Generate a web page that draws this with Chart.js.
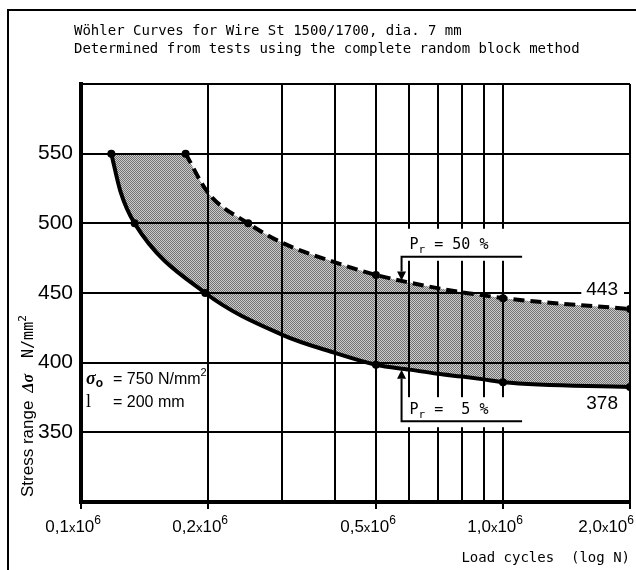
<!DOCTYPE html>
<html lang="en">
<head>
<meta charset="utf-8">
<title>Wöhler Curves for Wire St 1500/1700</title>
<script src="https://cdn.jsdelivr.net/npm/chart.js@4.4.1/dist/chart.umd.min.js"></script>
<style>
  html, body { margin: 0; padding: 0; background: #fff; }
  #wrap { width: 636px; height: 570px; }
</style>
</head>
<body>
<div id="wrap"><canvas id="woehlerChart" width="636" height="570"></canvas></div>
<script>
// Load cycles N and stress range (N/mm²)
const CYCLES_P5 = [0.118e6, 0.124e6, 0.134e6, 0.197e6, 0.3e6, 0.4e6, 0.5e6, 0.6e6, 0.7e6, 0.8e6, 0.9e6, 1.0e6, 2.0e6];
const STRESS_P5 = [550, 523, 500, 450, 420, 407, 398.5, 395, 392, 390, 388, 386, 382.5];
const CYCLES_P50 = [0.177e6, 0.2e6, 0.249e6, 0.3e6, 0.4e6, 0.5e6, 0.6e6, 0.7e6, 0.8e6, 0.9e6, 1.0e6, 2.0e6];
const STRESS_P50 = [550, 522, 500, 486, 472, 463, 457.5, 453.5, 450.5, 448.3, 446.3, 438.5];

// which points carry a dot
const DOTS_P5 = [0, 2, 3, 6, 11, 12];
const DOTS_P50 = [0, 2, 5, 10, 11];

const X_GRID = [1e5, 2e5, 3e5, 4e5, 5e5, 6e5, 7e5, 8e5, 9e5, 1e6, 2e6];
const X_LABELS = [1e5, 2e5, 5e5, 1e6, 2e6];
const Y_LABELS = [350, 400, 450, 500, 550];

const TITLE_LINES = [
    "Wöhler Curves for Wire St 1500/1700, dia. 7 mm",
    "Determined from tests using the complete random block method"
];
const END_LABEL_P50 = "443";
const END_LABEL_P5 = "378";

// where the P_r arrows point (load cycles) and the stress they touch
const PR_ARROW_AT = 0.575e6;
const PR_LEADER_END = 1.11e6;

const MONO = '"DejaVu Sans Mono"';
const SANS = '"Liberation Sans"';
const SERIF = '"Liberation Serif"';

// dithered grey like the printed band
function makeStipple() {
    const c = document.createElement("canvas");
    c.width = 2;
    c.height = 2;
    const g = c.getContext("2d");
    g.fillStyle = "#cccccc";
    g.fillRect(0, 0, 2, 2);
    g.fillStyle = "#727272";
    g.fillRect(0, 0, 1, 1);
    g.fillRect(1, 1, 1, 1);
    return g.createPattern(c, "repeat");
}

function runsWidth(ctx, runs) {
    let w = 0;
    runs.forEach((run) => {
        ctx.font = run.font;
        w += ctx.measureText(run.text).width + (run.gap || 0);
    });
    return w;
}

function drawRuns(ctx, x, y, runs) {
    runs.forEach((run) => {
        ctx.font = run.font;
        ctx.fillText(run.text, x, y + (run.dy || 0));
        x += ctx.measureText(run.text).width + (run.gap || 0);
    });
    return x;
}

function drawPr(ctx, xs, ys, tipValue, leaderValue, text, pointsUp) {
    const ax = xs.getPixelForValue(PR_ARROW_AT);
    const endX = xs.getPixelForValue(PR_LEADER_END);
    const tipY = ys.getPixelForValue(tipValue);
    const leaderY = ys.getPixelForValue(leaderValue);

    // white patch under the label breaks the grid lines
    ctx.fillStyle = "#fff";
    if (pointsUp) {
        ctx.fillRect(ax + 3, leaderY - 24, endX - ax - 3, 30);
    } else {
        ctx.fillRect(ax + 3, leaderY - 28, endX - ax - 3, 32);
    }

    ctx.fillStyle = "#000";
    ctx.strokeStyle = "#000";
    ctx.lineWidth = 2;
    const dir = pointsUp ? 1 : -1;
    const baseY = tipY + dir * 9;
    ctx.beginPath();
    ctx.moveTo(endX, leaderY);
    ctx.lineTo(ax, leaderY);
    ctx.lineTo(ax, baseY);
    ctx.stroke();
    ctx.beginPath();
    ctx.moveTo(ax, tipY);
    ctx.lineTo(ax - 4.5, baseY);
    ctx.lineTo(ax + 4.5, baseY);
    ctx.closePath();
    ctx.fill();

    drawRuns(ctx, ax + 8, leaderY - (pointsUp ? 7 : 8), [
        { text: "P", font: "15px " + MONO },
        { text: "r", font: "11px " + MONO, dy: 4 },
        { text: text, font: "15px " + MONO }
    ]);
}

const textPlugin = {
    id: "woehlerText",
    afterDraw(chart) {
        const { ctx, chartArea: area } = chart;
        const xs = chart.scales.x;
        const ys = chart.scales.y;
        ctx.save();
        ctx.fillStyle = "#000";
        ctx.strokeStyle = "#000";
        ctx.textAlign = "left";
        ctx.textBaseline = "alphabetic";

        // outer frame of the figure
        ctx.lineWidth = 2;
        ctx.beginPath();
        ctx.moveTo(8, 570);
        ctx.lineTo(8, 10);
        ctx.lineTo(636, 10);
        ctx.stroke();

        ctx.font = "14px " + MONO;
        TITLE_LINES.forEach((line, i) => ctx.fillText(line, 74, 35 + i * 18));

        // x tick labels  0,1x10^6 ...
        X_LABELS.forEach((v) => {
            const runs = [
                { text: (v / 1e6).toFixed(1).replace(".", ","), font: "17px " + SANS },
                { text: "x", font: "13px " + SANS },
                { text: "10", font: "17px " + SANS },
                { text: "6", font: "12px " + SANS, dy: -8 }
            ];
            const w = runsWidth(ctx, runs);
            const right = Math.min(xs.getPixelForValue(v) + 20, 634);
            drawRuns(ctx, right - w, 532, runs);
        });

        // y axis title, rotated
        ctx.save();
        ctx.translate(33, area.bottom - 5);
        ctx.rotate(-Math.PI / 2);
        drawRuns(ctx, 0, 0, [
            { text: "Stress range", font: "17px " + SANS, gap: 8 },
            { text: "Δσ", font: "bold italic 16px " + SERIF, gap: 16 },
            { text: "N/mm", font: "15px " + MONO },
            { text: "2", font: "11px " + MONO, dy: -7 }
        ]);
        ctx.restore();

        // test conditions
        const sx = area.left + 5;
        const sy = ys.getPixelForValue(385);
        drawRuns(ctx, sx, sy, [
            { text: "σ", font: "bold italic 18px " + SERIF },
            { text: "o", font: "bold 12px " + SANS, dy: 3 }
        ]);
        const ex = drawRuns(ctx, sx + 27, sy, [{ text: "= 750 N/mm", font: "16px " + SANS }]);
        drawRuns(ctx, ex, sy - 8, [{ text: "2", font: "11px " + SANS }]);
        drawRuns(ctx, sx, sy + 23, [{ text: "l", font: "18px " + SERIF }]);
        drawRuns(ctx, sx + 27, sy + 23, [{ text: "= 200 mm", font: "16px " + SANS }]);

        drawPr(ctx, xs, ys, 459, 476, " = 50 %", false);
        drawPr(ctx, xs, ys, 395, 358, " =  5 %", true);

        // end values at 2x10^6
        ctx.font = "19px " + SANS;
        ctx.textAlign = "right";
        const lx = area.right - 12;
        const y443 = ys.getPixelForValue(448.5);
        const w443 = ctx.measureText(END_LABEL_P50).width;
        ctx.fillStyle = "#fff";
        ctx.fillRect(lx - w443 - 5, y443 - 15, w443 + 11, 17);
        ctx.fillStyle = "#000";
        ctx.fillText(END_LABEL_P50, lx, y443);
        ctx.fillText(END_LABEL_P5, lx, ys.getPixelForValue(366.5));

        ctx.restore();
    }
};

Chart.defaults.font.family = "Liberation Sans";
Chart.defaults.color = "#000";

const stipple = makeStipple();

new Chart(document.getElementById("woehlerChart"), {
    type: "line",
    data: {
        datasets: [
            {
                // P_r = 50 %  (dashed); white fill clears the area above it
                label: "P_r = 50 %",
                data: CYCLES_P50.map((x, i) => ({ x: x, y: STRESS_P50[i] })),
                borderColor: "#000",
                borderWidth: 4,
                borderDash: [11, 6],
                backgroundColor: "#fff",
                fill: { value: 550 },
                cubicInterpolationMode: "monotone",
                pointRadius: (c) => (DOTS_P50.includes(c.dataIndex) ? 4 : 0),
                pointBackgroundColor: "#000",
                pointBorderWidth: 0
            },
            {
                // P_r = 5 %  (solid); grey band up to 550
                label: "P_r = 5 %",
                data: CYCLES_P5.map((x, i) => ({ x: x, y: STRESS_P5[i] })),
                borderColor: "#000",
                borderWidth: 4,
                backgroundColor: stipple,
                fill: { value: 550 },
                cubicInterpolationMode: "monotone",
                pointRadius: (c) => (DOTS_P5.includes(c.dataIndex) ? 4 : 0),
                pointBackgroundColor: "#000",
                pointBorderWidth: 0
            }
        ]
    },
    options: {
        responsive: false,
        animation: false,
        layout: { padding: { top: 84, right: 6, left: 0, bottom: 0 } },
        plugins: {
            legend: { display: false },
            tooltip: { enabled: false }
        },
        scales: {
            x: {
                type: "logarithmic",
                min: 1e5,
                max: 2e6,
                afterBuildTicks: (scale) => {
                    scale.ticks = X_GRID.map((v) => ({ value: v }));
                },
                afterFit: (scale) => {
                    scale.height = 68;
                },
                ticks: { display: false },
                grid: {
                    z: 1,
                    color: "#000",
                    lineWidth: 2,
                    drawTicks: true,
                    tickLength: 7,
                    tickColor: (c) => (c.tick && X_LABELS.includes(c.tick.value) ? "#000" : "rgba(0,0,0,0)")
                },
                border: { z: 2, color: "#000", width: 4 },
                title: {
                    display: true,
                    text: "Load cycles  (log N)",
                    align: "end",
                    font: { family: "DejaVu Sans Mono", size: 14 },
                    padding: { top: 0, bottom: 3 }
                }
            },
            y: {
                min: 300,
                max: 600,
                afterFit: (scale) => {
                    scale.width = 81;
                },
                ticks: {
                    stepSize: 50,
                    padding: 8,
                    font: { family: "Liberation Sans", size: 21 },
                    callback: (v) => (Y_LABELS.includes(v) ? String(v) : "")
                },
                grid: { z: 1, color: "#000", lineWidth: 2, drawTicks: false },
                border: { z: 2, color: "#000", width: 4 }
            }
        }
    },
    plugins: [textPlugin]
});
</script>
</body>
</html>
